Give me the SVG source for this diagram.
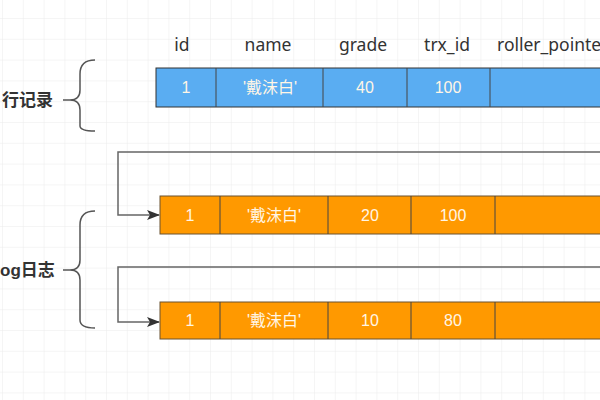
<svg xmlns="http://www.w3.org/2000/svg" width="600" height="400" viewBox="0 0 600 400">
<style>
  text { font-family: "Liberation Sans", "Noto Sans CJK SC", sans-serif; }
  .hdr { font-family: "Noto Sans", "Noto Sans CJK SC", sans-serif; font-size: 17.5px; fill: #333; text-anchor: middle; }
  .lbl { font-size: 17px; fill: #333; font-weight: bold; }
  .val { font-size: 16px; fill: #fff6e6; text-anchor: middle; }
  .blue { fill: #5aadf2; stroke: #333; stroke-width: 1; }
  .orange { fill: #ff9900; stroke: #6b5330; stroke-width: 1; }
  .div { stroke: #444; stroke-width: 1; }
  .brace { fill: none; stroke: #555; stroke-width: 1.5; }
  .conn { fill: none; stroke: #666; stroke-width: 1.5; }
</style>
<defs>
  <pattern id="grid" x="2" y="-2.8" width="20.8" height="20.8" patternUnits="userSpaceOnUse">
    <path d="M0 0 H20.8 M0 0 V20.8" fill="none" stroke="#ececec" stroke-width="1"/>
  </pattern>
  <marker id="arr" markerWidth="13" markerHeight="10" refX="12" refY="5" orient="auto" markerUnits="userSpaceOnUse">
    <path d="M0,0 L13,5 L0,10 L3,5 Z" fill="#333"/>
  </marker>
</defs>
<rect width="600" height="400" fill="#fff"/>
<rect width="600" height="400" fill="url(#grid)"/>

<g id="headers">
  <text class="hdr" x="182" y="51">id</text>
  <text class="hdr" x="268" y="51">name</text>
  <text class="hdr" x="363" y="51">grade</text>
  <text class="hdr" x="447" y="51">trx_id</text>
  <text class="hdr" x="497" y="51" style="text-anchor:start">roller_pointe</text>
</g>

<g id="brace-row">
  <path class="brace" d="M95,60 Q80,60 80,74 L80,90 Q80,100 70,100 L63,100 M70,100 Q80,100 80,110 L80,126 Q80,131 95,131"/>
  <text class="lbl" x="2" y="106">行记录</text>
</g>

<g id="brace-log">
  <path class="brace" d="M95,211 Q80,211 80,225 L80,260 Q80,270 70,270 L63,270 M70,270 Q80,270 80,280 L80,320 Q80,328 95,328"/>
  <text class="lbl" x="0" y="276">og日志</text>
</g>

<g id="row-current">
  <rect class="blue" x="156" y="68" width="460" height="39"/>
  <line class="div" x1="216" y1="68" x2="216" y2="107"/>
  <line class="div" x1="323" y1="68" x2="323" y2="107"/>
  <line class="div" x1="407" y1="68" x2="407" y2="107"/>
  <line class="div" x1="490" y1="68" x2="490" y2="107"/>
  <text class="val" x="186" y="93">1</text>
  <text class="val" x="270" y="93">'戴沫白'</text>
  <text class="val" x="365" y="93">40</text>
  <text class="val" x="448" y="93">100</text>
</g>

<g id="log-1">
  <rect class="orange" x="160" y="196" width="460" height="38"/>
  <line class="div" x1="220" y1="196" x2="220" y2="234"/>
  <line class="div" x1="328" y1="196" x2="328" y2="234"/>
  <line class="div" x1="411" y1="196" x2="411" y2="234"/>
  <line class="div" x1="495" y1="196" x2="495" y2="234"/>
  <text class="val" x="190" y="221">1</text>
  <text class="val" x="274" y="221">'戴沫白'</text>
  <text class="val" x="370" y="221">20</text>
  <text class="val" x="453" y="221">100</text>
</g>

<g id="log-2">
  <rect class="orange" x="160" y="302" width="460" height="37"/>
  <line class="div" x1="220" y1="302" x2="220" y2="339"/>
  <line class="div" x1="328" y1="302" x2="328" y2="339"/>
  <line class="div" x1="411" y1="302" x2="411" y2="339"/>
  <line class="div" x1="495" y1="302" x2="495" y2="339"/>
  <text class="val" x="190" y="326">1</text>
  <text class="val" x="274" y="326">'戴沫白'</text>
  <text class="val" x="370" y="326">10</text>
  <text class="val" x="453" y="326">80</text>
</g>

<g id="connectors">
  <path class="conn" d="M605,152 L118,152 L118,215 L159,215" marker-end="url(#arr)"/>
  <path class="conn" d="M605,267 L118,267 L118,322 L159,322" marker-end="url(#arr)"/>
</g>
</svg>
